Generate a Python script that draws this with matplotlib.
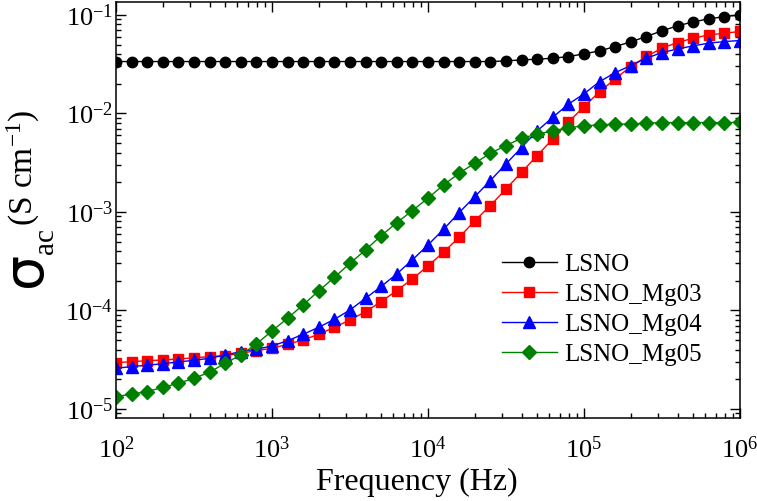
import matplotlib
matplotlib.use("Agg")
import matplotlib.pyplot as plt
import numpy as np

plt.rcParams['font.family'] = ['Liberation Serif', 'DejaVu Serif']
plt.rcParams['mathtext.fontset'] = 'custom'
plt.rcParams['mathtext.rm'] = 'Liberation Serif'
plt.rcParams['mathtext.it'] = 'Liberation Serif:italic'

# frequency grid (Hz), 10 points per decade
freq = [100, 126, 158, 200, 251, 316, 398, 501, 631, 794,
        1000, 1259, 1585, 1995, 2512, 3162, 3981, 5012, 6310, 7943,
        1e4, 1.259e4, 1.585e4, 1.995e4, 2.512e4, 3.162e4, 3.981e4, 5.012e4, 6.310e4, 7.943e4,
        1e5, 1.259e5, 1.585e5, 1.995e5, 2.512e5, 3.162e5, 3.981e5, 5.012e5, 6.310e5, 7.943e5,
        1e6]

lsno = [0.0336] * 25 + [0.0341, 0.0349, 0.0355, 0.0363, 0.0377, 0.0402, 0.0431, 0.0477,
                        0.0532, 0.0603, 0.0689, 0.0773, 0.0849, 0.091, 0.096, 0.100]

mg03 = [2.95e-5, 3.02e-5, 3.09e-5, 3.14e-5, 3.22e-5, 3.30e-5, 3.40e-5, 3.48e-5, 3.67e-5, 3.91e-5,
        4.13e-5, 4.54e-5, 5.02e-5, 5.73e-5, 6.75e-5, 8.0e-5, 9.72e-5, 1.23e-4, 1.59e-4, 2.09e-4,
        2.83e-4, 3.9e-4, 5.53e-4, 8.1e-4, 1.16e-3, 1.71e-3, 2.53e-3, 3.73e-3, 5.51e-3, 8.15e-3,
        1.17e-2, 1.66e-2, 2.24e-2, 2.99e-2, 3.78e-2, 4.59e-2, 5.24e-2, 5.79e-2, 6.26e-2, 6.51e-2,
        6.78e-2]

mg04 = [2.59e-5, 2.69e-5, 2.78e-5, 2.88e-5, 3.0e-5, 3.12e-5, 3.27e-5, 3.53e-5, 3.82e-5, 4.04e-5,
        4.36e-5, 4.93e-5, 5.73e-5, 6.75e-5, 8.13e-5, 1.01e-4, 1.33e-4, 1.75e-4, 2.35e-4, 3.26e-4,
        4.62e-4, 6.67e-4, 9.84e-4, 1.43e-3, 2.08e-3, 3.07e-3, 4.50e-3, 6.64e-3, 9.14e-3, 1.24e-2,
        1.58e-2, 2.10e-2, 2.59e-2, 3.06e-2, 3.63e-2, 4.14e-2, 4.51e-2, 4.85e-2, 5.16e-2, 5.36e-2,
        5.49e-2]

mg05 = [1.33e-5, 1.42e-5, 1.50e-5, 1.66e-5, 1.82e-5, 2.05e-5, 2.36e-5, 2.91e-5, 3.53e-5, 4.57e-5,
        6.19e-5, 8.34e-5, 1.14e-4, 1.58e-4, 2.17e-4, 3.01e-4, 4.11e-4, 5.74e-4, 7.78e-4, 1.03e-3,
        1.38e-3, 1.88e-3, 2.47e-3, 3.12e-3, 3.94e-3, 4.71e-3, 5.60e-3, 6.15e-3, 6.64e-3, 7.18e-3,
        7.46e-3, 7.64e-3, 7.76e-3, 7.82e-3, 7.94e-3, 8.07e-3, 8.07e-3, 8.07e-3, 8.07e-3, 8.07e-3,
        8.1e-3]

labels = ['LSNO', 'LSNO_Mg03', 'LSNO_Mg04', 'LSNO_Mg05']
colors = ['black', '#ff0000', '#0000ff', '#008000']
markers = ['o', 's', '^', 'D']
msizes = [7.5, 6.5, 8, 7]

fig = plt.figure(figsize=(7.57, 5.01), dpi=100)
ax = fig.add_axes([0.1532, 0.1657, 0.8243, 0.8309])

for y, lab, c, m, ms in zip([lsno, mg03, mg04, mg05], labels, colors, markers, msizes):
    ax.plot(freq, y, color=c, marker=m, markersize=ms, linewidth=1, label=lab)

ax.set_xscale('log')
ax.set_yscale('log')
ax.set_xlim(1e2, 1e6)
ax.set_ylim(8.1e-6, 0.136)

ax.tick_params(which='both', direction='in', top=True, right=True, labelsize=19, width=1)
ax.tick_params(which='major', length=7)
ax.tick_params(which='minor', length=3.5)
ax.tick_params(axis='x', which='major', pad=13)
ax.tick_params(axis='y', which='major', pad=2)
for s in ax.spines.values():
    s.set_linewidth(1.1)

ax.set_xlabel('Frequency (Hz)', fontsize=23)
ax.xaxis.set_label_coords(0.482, -0.12, transform=ax.transAxes)
ax.xaxis.label.set_va('top')

# y label built from pieces: big sigma, subscript, units
fig.text(0.035, 0.463, 'σ', fontsize=40, rotation=90, ha='center', va='center',
         family='DejaVu Sans')
fig.text(0.061, 0.519, 'ac', fontsize=21, rotation=90, ha='center', va='center')
fig.text(0.031, 0.665, r'(S cm$^{-1}$)', fontsize=24, rotation=90, ha='center', va='center')

ax.legend(loc='upper left', bbox_to_anchor=(0.618, 0.395), frameon=False, fontsize=18,
          handlelength=2.2, handletextpad=0.3, labelspacing=0.3, borderpad=0, borderaxespad=0)

fig.savefig('out.png', dpi=100)
